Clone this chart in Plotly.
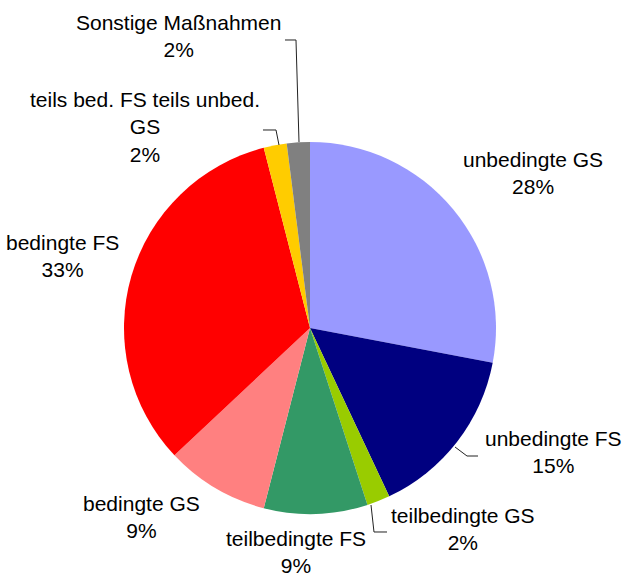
import plotly.graph_objects as go

# Sanctions breakdown (shares in percent), clockwise from 12 o'clock
categories = [
    "unbedingte GS",
    "unbedingte FS",
    "teilbedingte GS",
    "teilbedingte FS",
    "bedingte GS",
    "bedingte FS",
    "teils bed. FS teils unbed. GS",
    "Sonstige Maßnahmen",
]
shares = [28, 15, 2, 9, 9, 33, 2, 2]
colors = ["#9999FF", "#000080", "#99CC00", "#339966",
          "#FF8080", "#FF0000", "#FFCC00", "#808080"]

W, H = 623, 576
FONT = dict(family="Liberation Sans, Arial, sans-serif", size=21, color="black")


def px(x, y):
    """Pixel position -> paper coordinates."""
    return x / W, 1 - y / H


# pie centre and radius in pixels
cx, cy, r = 310, 328, 186
x0, y1 = px(cx - r, cy - r)
x1, y0 = px(cx + r, cy + r)

fig = go.Figure(go.Pie(
    labels=categories,
    values=shares,
    marker=dict(colors=colors, line=dict(width=0)),
    sort=False,
    direction="clockwise",
    rotation=0,
    textinfo="none",
    hoverinfo="label+percent",
    domain=dict(x=[x0, x1], y=[y0, y1]),
    showlegend=False,
))

# label text blocks: (centre x, centre y) in pixels
label_pos = {
    "unbedingte GS": (533, 173),
    "unbedingte FS": (553, 452),
    "teilbedingte GS": (463, 529),
    "teilbedingte FS": (296, 552),
    "bedingte GS": (141, 517),
    "bedingte FS": (62, 256),
    "teils bed. FS teils unbed. GS": (145, 127),
    "Sonstige Maßnahmen": (178, 36),
}
label_text = {
    "teils bed. FS teils unbed. GS": "teils bed. FS teils unbed.<br>GS",
}

total = sum(shares)
for name, val in zip(categories, shares):
    lx, ly = label_pos[name]
    ax, ay = px(lx, ly)
    txt = label_text.get(name, name)
    fig.add_annotation(
        x=ax, y=ay, xref="paper", yref="paper",
        text=f"{txt}<br>{round(100 * val / total)}%",
        showarrow=False, font=FONT, align="center",
        xanchor="center", yanchor="middle",
    )

# leader lines (pixel polylines)
leaders = [
    [(455, 447), (467, 456), (478, 456)],
    [(371, 505), (374, 532), (387, 532)],
    [(285, 40), (296, 40), (299, 142)],
    [(263, 130), (276, 130), (279, 145)],
]
for pts in leaders:
    path = "M " + " L ".join(f"{px(x, y)[0]:.5f},{px(x, y)[1]:.5f}" for x, y in pts)
    fig.add_shape(type="path", path=path, xref="paper", yref="paper",
                  line=dict(color="#222222", width=1))

fig.update_layout(
    width=W, height=H,
    margin=dict(l=0, r=0, t=0, b=0),
    paper_bgcolor="white",
    plot_bgcolor="white",
)

fig.write_html("out.html")
